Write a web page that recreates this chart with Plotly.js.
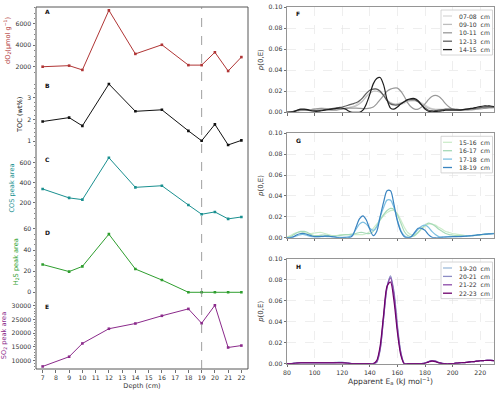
<!DOCTYPE html>
<html><head><meta charset="utf-8">
<script src="https://cdn.plot.ly/plotly-3.0.1.min.js"></script>
<style>html,body{margin:0;padding:0;background:#fff}</style>
</head><body><div id="chart" style="width:500px;height:393px"></div>
<script>
// ---------- left column data (depth profiles) ----------
const depth = [7, 9, 10, 12, 14, 16, 18, 19, 20, 21, 22];
const dO2 = [2000, 2100, 1700, 7270, 3200, 4050, 2150, 2150, 3350, 1600, 2900];
const toc = [1.9, 2.08, 1.7, 3.63, 2.37, 2.44, 1.47, 1.01, 1.77, 0.82, 1.03];
const cos = [339, 250, 233, 649, 355, 371, 180, 88, 111, 42, 61];
const h2s = [26.3, 19.6, 24.5, 55, 22, 11.6, 0, 0, 0, 0, 0];
const so2 = [7930, 11450, 16270, 21600, 23500, 26300, 28800, 23600, 30100, 14800, 15500];
const leftTitles = ['dO<sub>2</sub>(µmol g<sup>−1</sup>)', 'TOC (wt%)', 'COS peak area', 'H<sub>2</sub>S peak area', 'SO<sub>2</sub> peak area'];
const leftLetters = ['A', 'B', 'C', 'D', 'E'];
const depthTicks = [7, 8, 9, 10, 11, 12, 13, 14, 15, 16, 17, 18, 19, 20, 21, 22];
const markerDepth = [19];

// ---------- right column data (activation energy distributions) ----------
const energy = [80, 82.5, 85, 87.5, 90, 92.5, 95, 97.5, 100, 102.5,
  105, 107.5, 110, 112.5, 115, 117.5, 120, 122.5, 125, 127.5,
  130, 132.5, 135, 137.5, 140, 142.5, 145, 147.5, 150, 152.5,
  155, 157.5, 160, 162.5, 165, 167.5, 170, 172.5, 175, 177.5,
  180, 182.5, 185, 187.5, 190, 192.5, 195, 197.5, 200, 202.5,
  205, 207.5, 210, 212.5, 215, 217.5, 220, 222.5, 225, 227.5, 230];
const energyTicks = [80, 100, 120, 140, 160, 180, 200, 220];

const namesF = ['07-08\u00a0 cm', '09-10\u00a0 cm', '10-11\u00a0 cm', '12-13\u00a0 cm', '14-15\u00a0 cm'];
const p0708 = [0, 0.0003, 0.0008, 0.0012, 0.0015, 0.0018, 0.002, 0.0025, 0.003, 0.0035,
  0.004, 0.0038, 0.0033, 0.003, 0.003, 0.0032, 0.0035, 0.004, 0.0045, 0.0055,
  0.007, 0.01, 0.014, 0.018, 0.021, 0.022, 0.022, 0.02, 0.016, 0.012,
  0.009, 0.0075, 0.007, 0.0075, 0.0085, 0.01, 0.011, 0.011, 0.0105, 0.009,
  0.007, 0.005, 0.0035, 0.003, 0.003, 0.003, 0.003, 0.003, 0.003, 0.0028,
  0.0026, 0.0026, 0.0028, 0.003, 0.0033, 0.0036, 0.004, 0.0043, 0.0045, 0.0046, 0.0047];
const p0910 = [0, 0.0005, 0.001, 0.0015, 0.002, 0.002, 0.002, 0.0025, 0.003, 0.0035,
  0.0038, 0.0035, 0.003, 0.0025, 0.0025, 0.003, 0.0035, 0.004, 0.0045, 0.005,
  0.006, 0.008, 0.011, 0.015, 0.018, 0.02, 0.02, 0.019, 0.016, 0.012,
  0.009, 0.008, 0.008, 0.009, 0.01, 0.011, 0.011, 0.011, 0.01, 0.008,
  0.006, 0.004, 0.003, 0.0025, 0.0025, 0.0025, 0.0025, 0.0025, 0.0025, 0.0025,
  0.0025, 0.0025, 0.0027, 0.003, 0.0033, 0.0036, 0.004, 0.0043, 0.0045, 0.0046, 0.0047];
const p1011 = [0, 0.0005, 0.001, 0.0015, 0.002, 0.002, 0.002, 0.0025, 0.003, 0.0035,
  0.0035, 0.003, 0.0025, 0.002, 0.002, 0.0025, 0.003, 0.0035, 0.004, 0.004,
  0.004, 0.0038, 0.0035, 0.0035, 0.004, 0.005, 0.008, 0.012, 0.016, 0.02,
  0.022, 0.023, 0.023, 0.02, 0.015, 0.009, 0.005, 0.003, 0.003, 0.005,
  0.008, 0.012, 0.015, 0.016, 0.015, 0.012, 0.008, 0.005, 0.003, 0.0025,
  0.0022, 0.002, 0.002, 0.0022, 0.0025, 0.003, 0.0033, 0.0036, 0.004, 0.0042, 0.0045];
const p1213 = [0, 0.0005, 0.001, 0.002, 0.0025, 0.0025, 0.002, 0.0015, 0.0015, 0.0018,
  0.002, 0.0025, 0.003, 0.0035, 0.004, 0.0045, 0.005, 0.006, 0.007, 0.008,
  0.009, 0.011, 0.014, 0.018, 0.021, 0.022, 0.022, 0.02, 0.016, 0.011,
  0.008, 0.007, 0.007, 0.008, 0.01, 0.012, 0.012, 0.012, 0.01, 0.007,
  0.004, 0.002, 0.0015, 0.0015, 0.002, 0.0025, 0.003, 0.003, 0.003, 0.0028,
  0.0026, 0.0026, 0.0028, 0.003, 0.0035, 0.004, 0.0045, 0.005, 0.0052, 0.0052, 0.005];
const p1415 = [0, 0, 0.0005, 0.002, 0.003, 0.003, 0.0025, 0.0015, 0.001, 0.001,
  0.0015, 0.002, 0.0025, 0.003, 0.0035, 0.004, 0.004, 0.003, 0.001, 0,
  0, 0, 0.002, 0.008, 0.017, 0.027, 0.032, 0.033, 0.026, 0.012,
  0.004, 0.003, 0.005, 0.008, 0.01, 0.012, 0.013, 0.013, 0.011, 0.007,
  0.003, 0.001, 0.0005, 0.0008, 0.001, 0.0015, 0.002, 0.002, 0.002, 0.002,
  0.002, 0.0025, 0.003, 0.0035, 0.004, 0.0048, 0.0055, 0.006, 0.006, 0.006, 0.0055];

const namesG = ['15-16\u00a0 cm', '16-17\u00a0 cm', '17-18\u00a0 cm', '18-19\u00a0 cm'];
const p1516 = [0.0005, 0.002, 0.004, 0.005, 0.0055, 0.005, 0.004, 0.004, 0.0045, 0.005,
  0.005, 0.004, 0.003, 0.002, 0.002, 0.0025, 0.003, 0.003, 0.003, 0.003,
  0.003, 0.003, 0.003, 0.004, 0.006, 0.009, 0.013, 0.017, 0.021, 0.024,
  0.026, 0.026, 0.023, 0.017, 0.01, 0.005, 0.003, 0.003, 0.005, 0.008,
  0.011, 0.013, 0.013, 0.012, 0.01, 0.008, 0.006, 0.005, 0.004, 0.0035,
  0.003, 0.0025, 0.002, 0.002, 0.002, 0.0022, 0.0025, 0.003, 0.0033, 0.0036, 0.004];
const p1617 = [0, 0.001, 0.003, 0.005, 0.006, 0.006, 0.005, 0.003, 0.002, 0.002,
  0.0025, 0.0025, 0.002, 0.0015, 0.0015, 0.002, 0.0025, 0.003, 0.003, 0.0035,
  0.004, 0.005, 0.005, 0.004, 0.004, 0.006, 0.011, 0.017, 0.022, 0.026,
  0.028, 0.027, 0.022, 0.014, 0.006, 0.002, 0.001, 0.002, 0.005, 0.009,
  0.012, 0.014, 0.013, 0.011, 0.008, 0.006, 0.004, 0.003, 0.0025, 0.002,
  0.002, 0.0018, 0.0018, 0.002, 0.0022, 0.0025, 0.003, 0.0033, 0.0036, 0.004, 0.0042];
const p1718 = [0, 0, 0.001, 0.002, 0.003, 0.003, 0.002, 0.001, 0.0008, 0.0008,
  0.001, 0.0012, 0.001, 0.0008, 0.0005, 0.0003, 0.0003, 0.0005, 0.001, 0.003,
  0.008, 0.013, 0.015, 0.013, 0.009, 0.007, 0.01, 0.02, 0.029, 0.036,
  0.036, 0.029, 0.017, 0.007, 0.002, 0.0005, 0.001, 0.004, 0.008, 0.011,
  0.012, 0.01, 0.006, 0.003, 0.001, 0.0008, 0.0008, 0.001, 0.001, 0.001,
  0.0012, 0.0014, 0.0016, 0.0019, 0.0022, 0.0026, 0.003, 0.0033, 0.0036, 0.0038, 0.004];
const p1819 = [0, 0, 0.001, 0.003, 0.004, 0.004, 0.003, 0.002, 0.001, 0.001,
  0.0012, 0.0015, 0.0015, 0.001, 0.0005, 0, 0, 0, 0, 0.002,
  0.01, 0.018, 0.021, 0.017, 0.008, 0.002, 0.006, 0.02, 0.034, 0.045,
  0.045, 0.032, 0.016, 0.006, 0.001, 0, 0.001, 0.005, 0.009, 0.009,
  0.007, 0.003, 0.0005, 0, 0, 0.0003, 0.0006, 0.0008, 0.001, 0.001,
  0.001, 0.0012, 0.0015, 0.0018, 0.002, 0.0025, 0.003, 0.0033, 0.0035, 0.0037, 0.0038];

const namesH = ['19-20\u00a0 cm', '20-21\u00a0 cm', '21-22\u00a0 cm', '22-23\u00a0 cm'];
const p1920 = [0, 0, 0.0005, 0.001, 0.001, 0.001, 0.001, 0.001, 0.001, 0.001,
  0.001, 0.001, 0.001, 0.001, 0.0012, 0.0015, 0.0015, 0.001, 0.0005, 0,
  0, 0, 0, 0, 0, 0, 0.002, 0.015, 0.045, 0.074,
  0.083, 0.066, 0.034, 0.01, 0, 0, 0, 0, 0, 0,
  0.0005, 0.002, 0.003, 0.0025, 0.001, 0.0003, 0, 0, 0.0002, 0.0005,
  0.0008, 0.001, 0.0013, 0.0017, 0.002, 0.0024, 0.0028, 0.003, 0.0032, 0.0032, 0.003];
const p2021 = [0, 0, 0.0003, 0.0006, 0.0008, 0.0008, 0.0008, 0.0008, 0.0008, 0.0008,
  0.0008, 0.0008, 0.0008, 0.0008, 0.0008, 0.001, 0.001, 0.0008, 0.0004, 0,
  0, 0, 0, 0, 0, 0, 0.001, 0.013, 0.043, 0.073,
  0.084, 0.069, 0.037, 0.011, 0, 0, 0, 0, 0, 0,
  0.0005, 0.002, 0.003, 0.0025, 0.001, 0.0003, 0, 0, 0.0002, 0.0005,
  0.0008, 0.001, 0.0013, 0.0017, 0.002, 0.0024, 0.0028, 0.003, 0.0032, 0.0032, 0.003];
const p2122 = [0, 0, 0.0004, 0.0007, 0.0009, 0.001, 0.001, 0.001, 0.001, 0.001,
  0.001, 0.001, 0.001, 0.001, 0.001, 0.001, 0.001, 0.0008, 0.0004, 0,
  0, 0, 0, 0, 0, 0, 0.002, 0.014, 0.044, 0.073,
  0.082, 0.066, 0.034, 0.01, 0, 0, 0, 0, 0, 0,
  0.0005, 0.002, 0.003, 0.0025, 0.001, 0.0003, 0, 0, 0.0002, 0.0005,
  0.0008, 0.001, 0.0013, 0.0017, 0.002, 0.0024, 0.0028, 0.003, 0.0032, 0.0032, 0.003];
const p2223 = [0, 0, 0.0003, 0.0006, 0.0008, 0.0008, 0.0008, 0.0008, 0.0008, 0.0008,
  0.0008, 0.0008, 0.0008, 0.0008, 0.0008, 0.0008, 0.0008, 0.0006, 0.0003, 0,
  0, 0, 0, 0, 0, 0, 0.003, 0.017, 0.047, 0.074,
  0.078, 0.06, 0.03, 0.008, 0, 0, 0, 0, 0, 0,
  0.0004, 0.0015, 0.0025, 0.002, 0.0008, 0.0002, 0, 0, 0.0002, 0.0005,
  0.0008, 0.001, 0.0013, 0.0017, 0.002, 0.0024, 0.0028, 0.003, 0.0032, 0.0032, 0.003];
const rightLetters = ['F', 'G', 'H'];

// ---------- styling / geometry ----------
const W = 500, H = 393;
const px = v => v / W;
const py = v => 1 - v / H;
const FONT = 'DejaVu Sans, sans-serif';
const TICK = 6.2, TITLE = 6.6, LEG = 6.1, LETTER = 6;
const leftColors = ['#b03535', '#111111', '#1a9090', '#2e9e2e', '#8b2a8b'];
const leftSeries = [dO2, toc, cos, h2s, so2];
const leftRanges = [[1320, 7580], [0.69, 3.78], [16, 681], [-2.8, 60.6], [7000, 31300]];
const leftDtick = [2000, 1, 200, 20, 5000];
const leftMinor = [500, 0.2, 50, 5, 1000];
const leftPanels = [[7, 74], [80.75, 147.75], [154.5, 221.5], [228.25, 295.25], [302, 369]];
const leftX = [36, 248];
const rightX = [287, 494];
const rightPanels = [[7, 112.3], [133.3, 237.7], [259, 363.7]];
const rightSets = [
  {names: namesF, series: [p0708, p0910, p1011, p1213, p1415], colors: ['#d9d9d9', '#bdbdbd', '#999999', '#606060', '#1e1e1e']},
  {names: namesG, series: [p1516, p1617, p1718, p1819], colors: ['#cdeccb', '#a6dab8', '#7ec0e2', '#3a84c0']},
  {names: namesH, series: [p1920, p2021, p2122, p2223], colors: ['#9ebcda', '#8c8cc4', '#8c4aa8', '#6e016b']}
];

const traces = [];
const layout = {
  width: W, height: H,
  margin: {l: 0, r: 0, t: 0, b: 0},
  paper_bgcolor: '#fff', plot_bgcolor: 'rgba(0,0,0,0)',
  showlegend: false,
  font: {family: FONT, size: TICK, color: '#333'},
  shapes: [], annotations: []
};

// left panels
leftSeries.forEach((s, i) => {
  const yname = i === 0 ? 'y' : 'y' + (i + 1);
  const ykey = i === 0 ? 'yaxis' : 'yaxis' + (i + 1);
  traces.push({
    x: depth, y: s, xaxis: 'x', yaxis: yname, type: 'scatter', mode: 'lines+markers',
    line: {color: leftColors[i], width: 1}, marker: {color: leftColors[i], symbol: 'square', size: 2.6},
    name: leftLetters[i], hoverinfo: 'x+y'
  });
  const pnl = leftPanels[i];
  layout[ykey] = {
    domain: [py(pnl[1]), py(pnl[0])], anchor: 'x', range: leftRanges[i],
    dtick: leftDtick[i], tickformat: 'd', ticks: 'outside', ticklen: 2.5, tickwidth: 0.7, tickcolor: '#333',
    tickfont: {size: TICK, color: '#333'}, showgrid: false, zeroline: false, showline: false,
    minor: {ticks: 'outside', ticklen: 1.4, tickwidth: 0.6, tickcolor: '#333', dtick: leftMinor[i], showgrid: false},
    title: {text: leftTitles[i], font: {size: TITLE, color: leftColors[i]}, standoff: 4}
  };
  layout.annotations.push({
    xref: 'x', yref: 'paper', x: depth[0], y: py(pnl[0] + 4.5), text: '<b>' + leftLetters[i] + '</b>',
    showarrow: false, xanchor: 'left', yanchor: 'middle', font: {size: LETTER, color: '#111'}
  });
});
layout.xaxis = {
  domain: [px(leftX[0]), px(leftX[1])], anchor: 'y5', range: [6.5, 22.5],
  tickvals: depthTicks, ticks: 'outside', ticklen: 2.5, tickwidth: 0.7, tickcolor: '#333',
  tickfont: {size: TICK, color: '#333'}, showgrid: false, zeroline: false, showline: false,
  title: {text: 'Depth (cm)', font: {size: TITLE, color: '#333'}, standoff: 3}
};
// left frame + marker line
layout.shapes.push({type: 'rect', xref: 'paper', yref: 'paper', x0: px(leftX[0]), x1: px(leftX[1]),
  y0: py(leftPanels[4][1]), y1: py(leftPanels[0][0]), line: {color: '#444', width: 0.9}, fillcolor: 'rgba(0,0,0,0)'});
markerDepth.forEach(d => layout.shapes.push({type: 'line', xref: 'x', yref: 'paper', x0: d, x1: d,
  y0: py(leftPanels[4][1]), y1: py(leftPanels[0][0]), line: {color: '#888', width: 0.8, dash: 'dash'}}));

// right panels
rightSets.forEach((set, k) => {
  const xn = 'x' + (k + 2), yn = 'y' + (k + 6);
  const xkey = 'xaxis' + (k + 2), ykey = 'yaxis' + (k + 6);
  const pnl = rightPanels[k];
  set.series.forEach((s, j) => {
    traces.push({x: energy, y: s, xaxis: xn, yaxis: yn, type: 'scatter', mode: 'lines',
      line: {color: set.colors[j], width: 1.2, shape: 'spline', smoothing: 0.8}, name: set.names[j]});
  });
  layout[xkey] = {
    domain: [px(rightX[0]), px(rightX[1])], anchor: yn, range: [80, 230], tickvals: energyTicks,
    ticks: 'outside', ticklen: 2.5, tickwidth: 0.7, tickcolor: '#333', showticklabels: k === 2,
    tickfont: {size: TICK, color: '#333'}, showgrid: true, gridcolor: '#e2e2e2', gridwidth: 0.6, griddash: 'dash',
    zeroline: false, showline: true, mirror: true, linecolor: '#8a8a8a', linewidth: 0.9
  };
  if (k === 2) layout[xkey].title = {text: 'Apparent E<sub>a</sub> (kJ mol<sup>−1</sup>)', font: {size: 7.6, color: '#333'}, standoff: 2};
  layout[ykey] = {
    domain: [py(pnl[1]), py(pnl[0])], anchor: xn, range: [0, 0.1], dtick: 0.02, tickformat: '.2f',
    ticks: 'outside', ticklen: 2.5, tickwidth: 0.7, tickcolor: '#333', tickfont: {size: TICK, color: '#333'},
    showgrid: true, gridcolor: '#e2e2e2', gridwidth: 0.6, griddash: 'dash', zeroline: false,
    showline: true, mirror: true, linecolor: '#8a8a8a', linewidth: 0.9,
    title: {text: '<i>p</i>(0,E)', font: {size: 7, color: '#333'}, standoff: 4}
  };
  layout.annotations.push({xref: 'paper', yref: 'paper', x: px(rightX[0] + 7), y: py(pnl[0] + 7),
    text: '<b>' + rightLetters[k] + '</b>', showarrow: false, xanchor: 'left', yanchor: 'middle', font: {size: LETTER, color: '#111'}});
  // legend box
  const n = set.names.length;
  const top = pnl[0] + 3, rowH = 8.4;
  layout.shapes.push({type: 'rect', xref: 'paper', yref: 'paper', x0: px(441), x1: px(492.5),
    y0: py(top + 3 + n * rowH), y1: py(top), line: {color: '#cccccc', width: 0.8}, fillcolor: 'rgba(255,255,255,0.85)'});
  set.names.forEach((nm, j) => {
    const yy = top + 6 + j * rowH;
    layout.shapes.push({type: 'line', xref: 'paper', yref: 'paper', x0: px(443), x1: px(452), y0: py(yy), y1: py(yy),
      line: {color: set.colors[j], width: 1.3}});
    layout.annotations.push({xref: 'paper', yref: 'paper', x: px(456.5), y: py(yy), text: nm, showarrow: false,
      xanchor: 'left', yanchor: 'middle', font: {size: LEG, color: '#333'}});
  });
});

Plotly.newPlot('chart', traces, layout, {displayModeBar: false, staticPlot: true});
</script></body></html>
